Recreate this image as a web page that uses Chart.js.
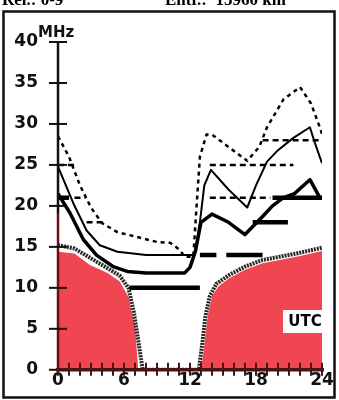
<!DOCTYPE html>
<html>
<head>
<meta charset="utf-8">
<script src="https://cdn.jsdelivr.net/npm/chart.js@4.4.1/dist/chart.umd.min.js"></script>
<style>
  html, body { margin: 0; padding: 0; background: #fff; }
  canvas { display: block; }
</style>
</head>
<body>
<canvas id="propChart" width="339" height="400"></canvas>
<script>
// hours (UTC) and frequencies (MHz)
const xTickLabels = [0, 6, 12, 18, 24];
const yTickLabels = [0, 5, 10, 15, 20, 25, 30, 35, 40];

// red area (lowest usable range)
const redHours = [0, 1.5, 2.9, 4.5, 5.6, 6.4, 7, 7.3, 13.0, 13.3, 13.6, 14, 14.6, 15.6, 17, 18.6, 21.7, 24];
const redMHz   = [14.4, 14.2, 12.8, 11.8, 10.8, 8.9, 5.2, 0, 0, 3, 6.5, 9, 10.2, 11.2, 12.2, 13, 13.8, 14.5];

// dark rough border curve
const darkHours = [0, 1.5, 3, 4.5, 5.6, 6.4, 6.9, 7.3, 7.7, 12.8, 13.1, 13.4, 13.8, 14.4, 15.6, 17, 18.6, 21.7, 24];
const darkMHz   = [15.2, 14.8, 13.6, 12.4, 11.5, 10, 7, 3.5, 0, 0, 3, 6.5, 9, 10.5, 11.6, 12.6, 13.4, 14.2, 14.9];

// top dotted curve
const dotHours = [0, 1, 2, 3, 4, 5.4, 7.2, 9, 10.2, 11.1, 11.5, 12.3, 12.6, 12.9, 13.5, 14, 15.5, 17.2, 18.3, 19, 20.5, 22, 23, 23.8, 24];
const dotMHz   = [28.5, 26, 22.5, 19.8, 17.9, 16.8, 16.2, 15.6, 15.5, 14.6, 13.8, 13.8, 20, 26, 28.7, 28.7, 27.2, 25.5, 27.2, 29.6, 33, 34.5, 32.5, 29.6, 28.8];

// thin solid curve
const thinHours = [0, 1.4, 2.6, 3.8, 5.4, 8, 11.7, 12.4, 12.9, 13.3, 13.9, 15.5, 17.2, 18, 19, 20, 21.4, 22.9, 23.4, 24];
const thinMHz   = [24.8, 20.3, 17, 15.2, 14.4, 14, 14, 14, 18, 22.5, 24.4, 22, 19.8, 22.5, 25.4, 26.8, 28.3, 29.6, 27.5, 25.2];

// thick solid curve
const thickHours = [0, 1.1, 2.3, 3.5, 5, 6.3, 8, 11.5, 12, 12.5, 13, 14, 15.5, 17, 18.6, 19.5, 20.5, 21.5, 22.9, 23.8, 24];
const thickMHz   = [21.5, 19.1, 15.9, 14, 12.6, 12, 11.8, 11.8, 12.5, 14.5, 18, 19, 18, 16.5, 18.7, 20, 21, 21.5, 23.2, 21, 21];

// band steps, short dashes
const dashFrom = [0, 1.5, 2.6, 13.8, 13.8, 18.6];
const dashTo   = [1.5, 2.5, 4.3, 21.4, 19.3, 24];
const dashMHz  = [25, 21, 18, 25, 21, 28];

// band steps, heavy bars
const barFrom = [-0.8, 6.5, 12.9, 15.3, 17.7, 19.5];
const barTo   = [1, 12.9, 14.4, 18.6, 20.9, 24];
const barMHz  = [21, 10, 14, 14, 18, 21];

function pts(xs, ys) {
    return xs.map((h, i) => ({ x: h, y: ys[i] }));
}

function steps(from, to, mhz) {
    let out = [];
    from.forEach((f, i) => {
        out.push({ x: f, y: mhz[i] });
        out.push({ x: to[i], y: mhz[i] });
        out.push({ x: to[i], y: null });
    });
    return out;
}

const FONT = "'DejaVu Sans', Arial, sans-serif";
const MAROON = "#4a1414";

const overlay = {
    id: "overlay",
    beforeDraw(chart) {
        const ctx = chart.ctx;
        ctx.save();
        ctx.fillStyle = "#fff";
        ctx.fillRect(0, 0, chart.width, chart.height);
        ctx.restore();
    },
    afterDatasetsDraw(chart) {
        const ctx = chart.ctx;
        const x = chart.scales.x, y = chart.scales.y;
        const x0 = x.getPixelForValue(0), x24 = x.getPixelForValue(24);
        const y0 = y.getPixelForValue(0), y40 = y.getPixelForValue(40);
        ctx.save();
        ctx.lineCap = "butt";

        // y axis: black above, dark red in the lower part
        ctx.strokeStyle = "#111";
        ctx.lineWidth = 2.5;
        ctx.beginPath();
        ctx.moveTo(x0, y40);
        ctx.lineTo(x0, y.getPixelForValue(19));
        ctx.stroke();
        ctx.strokeStyle = "#6a1010";
        ctx.beginPath();
        ctx.moveTo(x0, y.getPixelForValue(19));
        ctx.lineTo(x0, y0);
        ctx.stroke();
        ctx.strokeStyle = "#111";
        ctx.lineWidth = 2;
        yTickLabels.forEach(v => {
            const py = y.getPixelForValue(v);
            ctx.beginPath();
            ctx.moveTo(x0 - 9, py);
            ctx.lineTo(x0 + 9, py);
            ctx.stroke();
        });

        // x axis with hourly ticks
        ctx.strokeStyle = MAROON;
        ctx.lineWidth = 3.5;
        ctx.beginPath();
        ctx.moveTo(x0 - 2, y0);
        ctx.lineTo(x24 + 2, y0);
        ctx.stroke();
        ctx.lineWidth = 2;
        for (let h = 0; h <= 24; h++) {
            const px = x.getPixelForValue(h);
            ctx.beginPath();
            ctx.moveTo(px, y0 - 7);
            ctx.lineTo(px, y0 + 6);
            ctx.stroke();
        }

        // unit
        ctx.fillStyle = "#111";
        ctx.font = "bold 15px " + FONT;
        ctx.textAlign = "left";
        ctx.textBaseline = "alphabetic";
        ctx.fillText("MHz", 38, 37);

        // UTC tag
        ctx.fillStyle = "#fff";
        ctx.fillRect(283, 310, 45, 23);
        ctx.fillStyle = "#000";
        ctx.font = "bold 15px " + FONT;
        ctx.textAlign = "center";
        ctx.textBaseline = "middle";
        ctx.fillText("UTC", 305, 322);

        // header line, cut by the top edge
        ctx.textAlign = "left";
        ctx.textBaseline = "alphabetic";
        ctx.font = "bold 17px 'Liberation Serif', serif";
        ctx.fillText("Rel.: 0-9", 2, 5);
        ctx.fillText("Entf.:  15960 km", 165, 5);

        // frame
        ctx.strokeStyle = "#111";
        ctx.lineWidth = 2.5;
        ctx.strokeRect(3.5, 11.5, 331, 386);
        ctx.restore();
    }
};

const ctx = document.getElementById("propChart").getContext("2d");
const propChart = new Chart(ctx, {
    type: "line",
    data: {
        datasets: [
            {
                data: pts(redHours, redMHz),
                borderWidth: 0,
                borderColor: "rgba(0,0,0,0)",
                backgroundColor: "#ef4652",
                fill: "origin",
                order: 10
            },
            {
                data: pts(darkHours, darkMHz),
                borderColor: "#2b2424",
                borderWidth: 4,
                borderDash: [2, 1],
                fill: false,
                order: 9
            },
            {
                data: steps(barFrom, barTo, barMHz),
                borderColor: "#000",
                borderWidth: 4.5,
                fill: false,
                order: 8
            },
            {
                data: steps(dashFrom, dashTo, dashMHz),
                borderColor: "#000",
                borderWidth: 2.5,
                borderDash: [6, 4],
                fill: false,
                order: 7
            },
            {
                data: pts(thickHours, thickMHz),
                borderColor: "#000",
                borderWidth: 3.5,
                fill: false,
                order: 6
            },
            {
                data: pts(thinHours, thinMHz),
                borderColor: "#000",
                borderWidth: 2,
                fill: false,
                order: 5
            },
            {
                data: pts(dotHours, dotMHz),
                borderColor: "#000",
                borderWidth: 2.5,
                borderDash: [4, 4],
                fill: false,
                order: 4
            }
        ]
    },
    options: {
        responsive: false,
        animation: false,
        devicePixelRatio: 1,
        spanGaps: false,
        elements: {
            point: { radius: 0, hoverRadius: 0 },
            line: { tension: 0, borderJoinStyle: "round" }
        },
        layout: {
            autoPadding: false,
            padding: { left: 0, right: 17, top: 42, bottom: 0 }
        },
        plugins: {
            legend: { display: false },
            tooltip: { enabled: false }
        },
        scales: {
            x: {
                type: "linear",
                min: 0,
                max: 24,
                afterFit: s => { s.height = 30; },
                afterBuildTicks: s => { s.ticks = xTickLabels.map(v => ({ value: v })); },
                grid: { display: false, drawTicks: false },
                border: { display: false },
                ticks: {
                    padding: 1,
                    color: "#111",
                    font: { family: FONT, size: 17, weight: "bold" },
                    maxRotation: 0
                }
            },
            y: {
                min: 0,
                max: 40,
                afterFit: s => { s.width = 58; },
                afterBuildTicks: s => { s.ticks = yTickLabels.map(v => ({ value: v })); },
                grid: { display: false, drawTicks: false },
                border: { display: false },
                ticks: {
                    padding: 20,
                    color: "#111",
                    font: { family: FONT, size: 17, weight: "bold" }
                }
            }
        }
    },
    plugins: [overlay]
});
</script>
</body>
</html>
